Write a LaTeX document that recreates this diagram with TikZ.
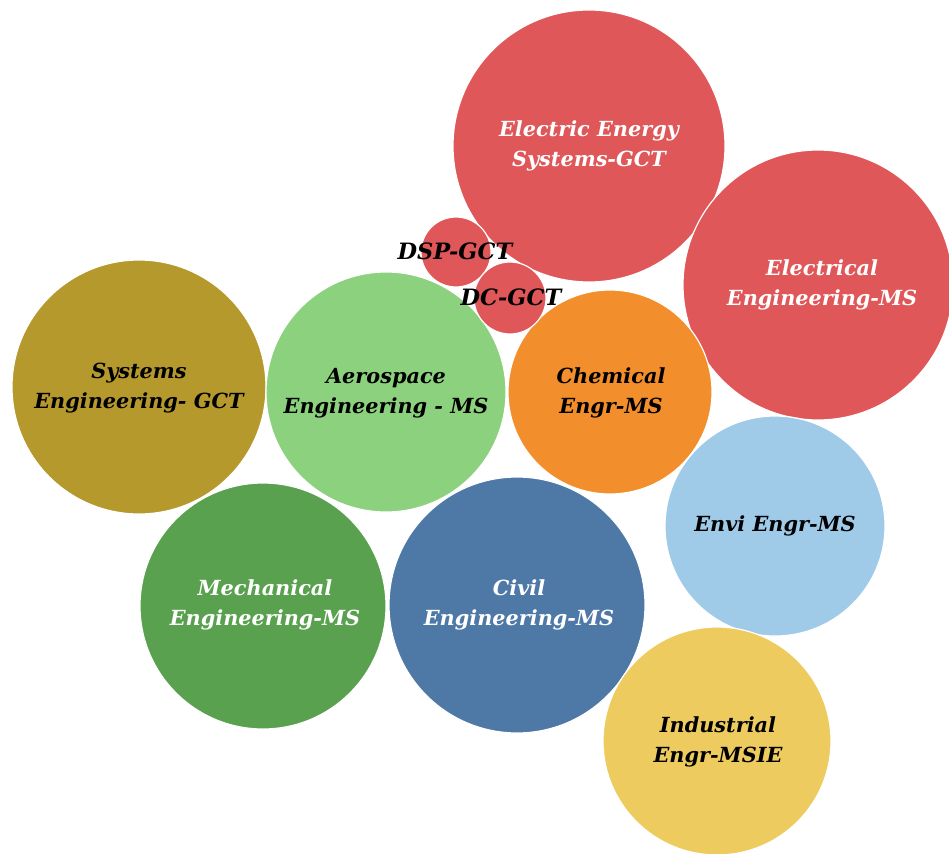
\documentclass[tikz,border=0pt]{standalone}
\usepackage{fontspec}
\setmainfont{DejaVu Serif}
\definecolor{cred}{HTML}{E05759}
\definecolor{corange}{HTML}{F28E2B}
\definecolor{cltblue}{HTML}{A0CBE8}
\definecolor{cyellow}{HTML}{EECB5F}
\definecolor{cblue}{HTML}{4E79A7}
\definecolor{cgreen}{HTML}{59A14F}
\definecolor{cltgreen}{HTML}{8CD17D}
\definecolor{colive}{HTML}{B6992D}
\tikzset{
  bubble/.style={circle, draw=white, line width=1.2pt, inner sep=0pt},
  lbl/.style={align=center, font=\fontsize{20.8}{30}\selectfont\bfseries\itshape, inner sep=0pt},
  wlbl/.style={lbl, text=white},
  blbl/.style={lbl, text=black},
  slbl/.style={blbl, font=\fontsize{22.5}{30}\selectfont\bfseries\itshape}
}
\begin{document}
\begin{tikzpicture}[x=1pt,y=-1pt]
\useasboundingbox (0,0) rectangle (949,853);
\fill[white] (0,0) rectangle (949,853);
% circles
\node[bubble, fill=cred, minimum size=272pt] (ee) at (589,146) {};
\node[bubble, fill=cred, minimum size=270pt] (el) at (818,285) {};
\node[bubble, fill=colive, minimum size=254pt] (se) at (139,387) {};
\node[bubble, fill=cltgreen, minimum size=240pt] (ae) at (386,392) {};
\node[bubble, fill=corange, minimum size=204pt] (ch) at (610,392) {};
\node[bubble, fill=cltblue, minimum size=220pt] (en) at (775,526) {};
\node[bubble, fill=cgreen, minimum size=246pt] (me) at (263,606) {};
\node[bubble, fill=cblue, minimum size=256pt] (ci) at (517,605) {};
\node[bubble, fill=cyellow, minimum size=228pt] (in) at (717,741) {};
\node[bubble, fill=cred, minimum size=70pt] (dsp) at (456,252) {};
\node[bubble, fill=cred, minimum size=72pt] (dc) at (510,298) {};
% labels
\node[wlbl] (ee-t) at (589,146) {Electric Energy\\Systems-GCT};
\node[wlbl] (el-t) at (822,285) {Electrical\\Engineering-MS};
\node[blbl] (se-t) at (139,388) {Systems\\Engineering- GCT};
\node[blbl] (ae-t) at (386,393) {Aerospace\\Engineering - MS};
\node[blbl] (ch-t) at (611,393) {Chemical\\Engr-MS};
\node[blbl] (en-t) at (775,526) {Envi Engr-MS};
\node[wlbl] (me-t) at (265,605) {Mechanical\\Engineering-MS};
\node[wlbl] (ci-t) at (519,605) {Civil\\Engineering-MS};
\node[blbl] (in-t) at (718,742) {Industrial\\Engr-MSIE};
\node[slbl] (dsp-t) at (455,251) {DSP-GCT};
\node[slbl] (dc-t) at (511,297) {DC-GCT};
\end{tikzpicture}
\end{document}
